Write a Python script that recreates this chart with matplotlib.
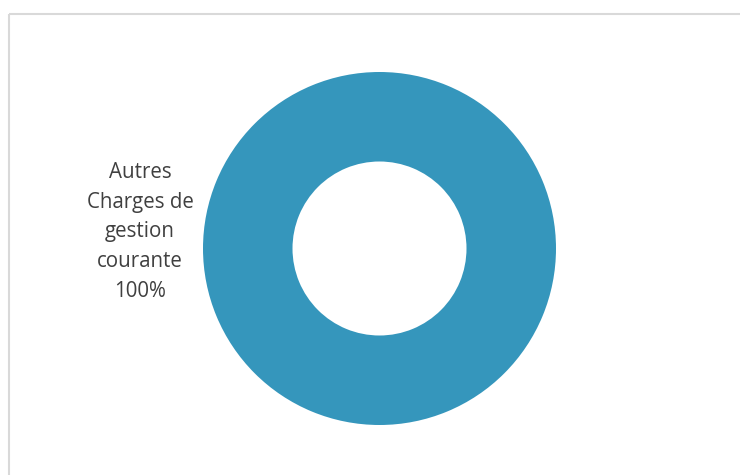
import matplotlib.pyplot as plt
from matplotlib.patches import Rectangle

# data
categories = ['Autres\nCharges de\ngestion\ncourante']
values = [100]
colors = ['#3596bc']

W, H = 740, 475
fig = plt.figure(figsize=(W / 100, H / 100), dpi=100)
ax = fig.add_axes([0, 0, 1, 1])
ax.set_xlim(0, W)
ax.set_ylim(H, 0)
ax.set_aspect('equal')
ax.axis('off')

# chart area border (runs off the right/bottom edge)
ax.add_patch(Rectangle((8.5, 13.5), 740, 470, fill=False, ec='#d9d9d9', lw=1.5))

cx, cy, r_out, r_in = 379.5, 248.5, 176.5, 87
wedges, _ = ax.pie(values, colors=colors, center=(cx, cy), radius=r_out,
                   startangle=90, counterclock=False, frame=True,
                   wedgeprops=dict(width=r_out - r_in, edgecolor='none'))
ax.set_xlim(0, W)
ax.set_ylim(H, 0)
ax.axis('off')

total = sum(values)
for cat, v in zip(categories, values):
    ax.text(140, 232, f'{cat}\n{v / total * 100:.0f}%', ha='center', va='center',
            fontsize=14.8, family='Open Sans', color='#404040', linespacing=1.55)

fig.savefig('out.png', dpi=100)
